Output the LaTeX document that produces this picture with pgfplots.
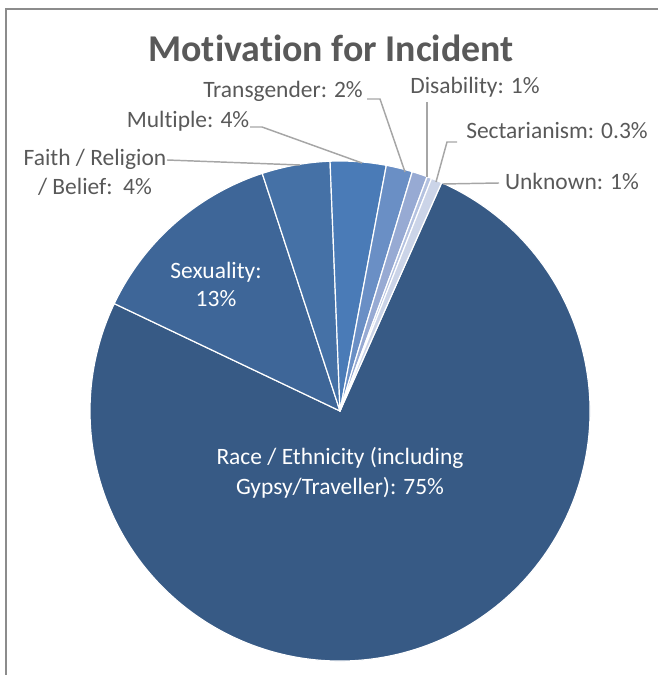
\documentclass[border=0pt]{standalone}
\usepackage{pgfplots}
\pgfplotsset{compat=1.18}
\usepackage{pgfplotstable}
\usepackage{fontspec}
\setmainfont[Ligatures={NoCommon}]{Carlito}
\definecolor{c0}{HTML}{375A85}
\definecolor{c1}{HTML}{3E6698}
\definecolor{c2}{HTML}{4571A6}
\definecolor{c3}{HTML}{4A7BB7}
\definecolor{c4}{HTML}{6A8FC5}
\definecolor{c5}{HTML}{97AAD3}
\definecolor{c6}{HTML}{B4C2E0}
\definecolor{c7}{HTML}{CBD4E8}
\definecolor{txt}{HTML}{595959}
\definecolor{lead}{HTML}{A6A6A6}
\definecolor{frame}{HTML}{8C8C8C}
% Share of incidents (%), clockwise from the first slice
\pgfplotstableread{
label value
Race 75.4
Sexuality 12.9
Faith 4.4
Multiple 3.6
Transgender 1.7
Disability 1.0
Sectarianism 0.3
Unknown 0.7
}\piedata
\begin{document}
\begin{tikzpicture}
\begin{axis}[width=493.5pt, height=506.25pt, scale only axis,
  xmin=0, xmax=658, ymin=0, ymax=675, hide axis, clip=false]
\coordinate (bl) at (axis cs:0,0);
\coordinate (tr) at (axis cs:658,675);
\draw[frame, line width=1.1pt] (axis cs:6,0) -- (axis cs:6,666) -- (axis cs:658,666);
\gdef\startA{66}
\pgfplotsforeachungrouped \i in {0,...,7}{%
  \pgfplotstablegetelem{\i}{value}\of\piedata
  \pgfmathsetmacro\endA{\startA - 3.6*\pgfplotsretval}%
  \edef\temp{\noexpand\fill[c\i, draw=white, line width=0.9pt, line join=round] (axis cs:340,264) -- ++(\startA:187.5pt) arc[start angle=\startA, end angle=\endA, radius=187.5pt] -- cycle;}%
  \temp
  \global\let\startA\endA
}
% title
\node[font=\bfseries\fontsize{28.4}{32}\selectfont, text=txt] at (axis cs:331,627) {Motivation for Incident};
% leader lines
\draw[lead, line width=1.1pt] (axis cs:167,515) -- (axis cs:300,510);
\draw[lead, line width=1.1pt] (axis cs:250,548) -- (axis cs:262,548) -- (axis cs:362,512);
\draw[lead, line width=1.1pt] (axis cs:367,576) -- (axis cs:380,576) -- (axis cs:405,503);
\draw[lead, line width=1.1pt] (axis cs:427,573) -- (axis cs:427,498);
\draw[lead, line width=1.1pt] (axis cs:457,533) -- (axis cs:447,533) -- (axis cs:436,493);
\draw[lead, line width=1.1pt] (axis cs:499,492) -- (axis cs:443,491);
% labels
\tikzset{lab/.style={font=\fontsize{17.6}{21.5}\selectfont, text=txt, inner sep=0pt}}
\node[lab] at (axis cs:283,584) {Transgender: 2\%};
\node[lab] at (axis cs:475,588) {Disability: 1\%};
\node[lab] at (axis cs:188,554) {Multiple: 4\%};
\node[lab] at (axis cs:557,544) {Sectarianism: 0.3\%};
\node[lab, align=center, font=\fontsize{17.6}{21.75}\selectfont] at (axis cs:95,503) {Faith / Religion\\/ Belief:\ \ 4\%};
\node[lab] at (axis cs:572,494) {Unknown: 1\%};
\node[lab, text=white, align=center, font=\fontsize{17.6}{21}\selectfont] at (axis cs:216,391) {Sexuality:\\13\%};
\node[lab, text=white, align=center, font=\fontsize{17.6}{22.5}\selectfont] at (axis cs:340,202) {Race / Ethnicity (including\\Gypsy/Traveller): 75\%};
\end{axis}
\pgfresetboundingbox
\path (bl) rectangle (tr);
\end{tikzpicture}
\end{document}
